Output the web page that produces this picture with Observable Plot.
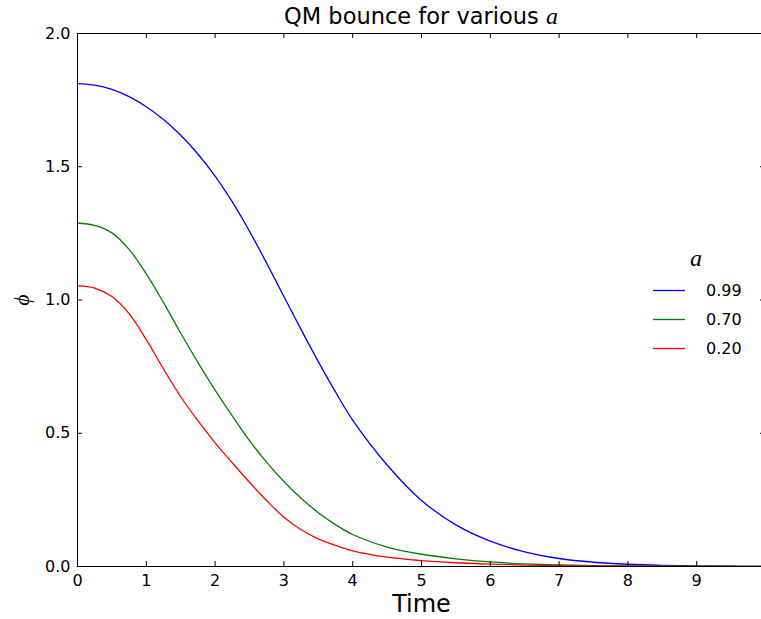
<!DOCTYPE html>
<html>
<head>
<meta charset="utf-8">
<script src="https://cdn.jsdelivr.net/npm/d3@7"></script>
<script src="https://cdn.jsdelivr.net/npm/@observablehq/plot@0.6"></script>
<style>
  html, body { margin: 0; padding: 0; background: #fff; overflow: hidden; }
  #wrap { position: relative; width: 761px; height: 619px; overflow: hidden; font-family: "DejaVu Sans", sans-serif; }
  #chart { position: absolute; left: 0; top: 0; width: 766px; height: 619px; }
  #chart svg { max-width: none !important; }
  .math { font-family: "Liberation Serif", "DejaVu Serif", serif; font-style: italic; }
  #title { position: absolute; left: 77px; width: 688px; top: 4px; text-align: center; font-size: 22.5px; line-height: 1; color: #000; }
  #ylab { position: absolute; left: 22px; top: 300px; transform: translate(-50%, -50%) rotate(-90deg); font-size: 22px; color: #000; }
  #legend { position: absolute; left: 650px; top: 245px; width: 100px; }
  .leg-head { position: absolute; left: 40px; top: 0; font-size: 24px; }
  .leg-row { position: absolute; left: 0; height: 20px; }
  .leg-row svg { position: absolute; left: 3px; top: 9px; }
  .leg-row span { position: absolute; left: 56px; top: 1px; font-size: 16px; color: #000; }
</style>
</head>
<body>
<div id="wrap">
  <div id="chart"></div>
  <div id="title">QM bounce for various <span class="math" style="font-size:24px">a</span></div>
  <div id="ylab" class="math">ϕ</div>
  <div id="legend"></div>
</div>
<script>
// ---- data ----
const time = [0, 0.25, 0.5, 0.75, 1, 1.25, 1.5, 1.75, 2, 2.25, 2.5, 2.75, 3, 3.25, 3.5, 3.75, 4,
              4.5, 5, 5.5, 6, 6.5, 7, 7.5, 8, 8.5, 9, 9.5, 10];
const phiA099 = [1.812, 1.806, 1.790, 1.763, 1.725, 1.677, 1.618, 1.548, 1.465, 1.368, 1.258, 1.138, 1.013, 0.889, 0.769, 0.655, 0.549,
                 0.381, 0.248, 0.156, 0.095, 0.055, 0.030, 0.016, 0.0085, 0.0043, 0.002, 0.0009, 0.0004];
const phiA070 = [1.288, 1.280, 1.252, 1.190, 1.098, 0.990, 0.876, 0.766, 0.662, 0.565, 0.472, 0.391, 0.319, 0.256, 0.202, 0.157, 0.120,
                 0.073, 0.046, 0.029, 0.017, 0.010, 0.006, 0.0035, 0.002, 0.0012, 0.0007, 0.0004, 0.0002];
const phiA020 = [1.053, 1.045, 1.013, 0.949, 0.851, 0.741, 0.637, 0.547, 0.464, 0.389, 0.316, 0.247, 0.185, 0.138, 0.104, 0.079, 0.059,
                 0.035, 0.022, 0.014, 0.009, 0.0055, 0.0033, 0.002, 0.0012, 0.0007, 0.0004, 0.0002, 0.0001];
const seriesLabels = ["0.99", "0.70", "0.20"];
const seriesColors = ["#0000ff", "#008000", "#ff0000"];
const xTicks = [0, 1, 2, 3, 4, 5, 6, 7, 8, 9, 10];
const yTicks = [0, 0.5, 1.0, 1.5, 2.0];

const seriesValues = [phiA099, phiA070, phiA020];
const rows = [];
seriesValues.forEach((vals, i) => {
  vals.forEach((v, j) => rows.push({t: time[j], phi: v, a: seriesLabels[i]}));
});

const W = 766, H = 619;
const mL = 77, mR = 1, mT = 33, mB = 53;
const plotW = W - mL - mR, plotH = H - mT - mB;
const tick = 5;

const chart = Plot.plot({
  width: W, height: H,
  marginLeft: mL, marginRight: mR, marginTop: mT, marginBottom: mB,
  style: {fontFamily: "DejaVu Sans, sans-serif", fontSize: "16px", color: "#000", background: "transparent", maxWidth: "none"},
  x: {domain: [0, 10]},
  y: {domain: [0, 2]},
  color: {domain: seriesLabels, range: seriesColors},
  marks: [
    Plot.line(rows, {x: "t", y: "phi", z: "a", stroke: "a", strokeWidth: 1.3, curve: "catmull-rom"}),
    Plot.frame({stroke: "#000", strokeWidth: 1}),
    Plot.tickX(xTicks, {x: d => d, insetTop: plotH - tick, stroke: "#000"}),
    Plot.tickX(xTicks, {x: d => d, insetBottom: plotH - tick, stroke: "#000"}),
    Plot.tickY(yTicks, {y: d => d, insetRight: plotW - tick, stroke: "#000"}),
    Plot.tickY(yTicks, {y: d => d, insetLeft: plotW - tick, stroke: "#000"}),
    Plot.axisX(xTicks.filter(d => d < 10), {tickSize: 0, tickPadding: 8, label: null, tickFormat: d => String(d), fontSize: 16}),
    Plot.axisY(yTicks, {tickSize: 0, tickPadding: 7, label: null, tickFormat: d3.format(".1f"), fontSize: 16}),
    Plot.text(["Time"], {frameAnchor: "bottom", dy: 45, fontSize: 24, fill: "#000"})
  ]
});
chart.style.maxWidth = "none";
document.getElementById("chart").appendChild(chart);

// legend
const legend = document.getElementById("legend");
const head = document.createElement("div");
head.className = "leg-head math";
head.textContent = "a";
legend.appendChild(head);
const rowTops = [35, 64, 93];
seriesLabels.forEach((lab, i) => {
  const r = document.createElement("div");
  r.className = "leg-row";
  r.style.top = rowTops[i] + "px";
  r.innerHTML = `<svg width="32" height="3"><line x1="0" x2="32" y1="1.5" y2="1.5" stroke="${seriesColors[i]}" stroke-width="1.3"/></svg><span>${lab}</span>`;
  legend.appendChild(r);
});
</script>
</body>
</html>
